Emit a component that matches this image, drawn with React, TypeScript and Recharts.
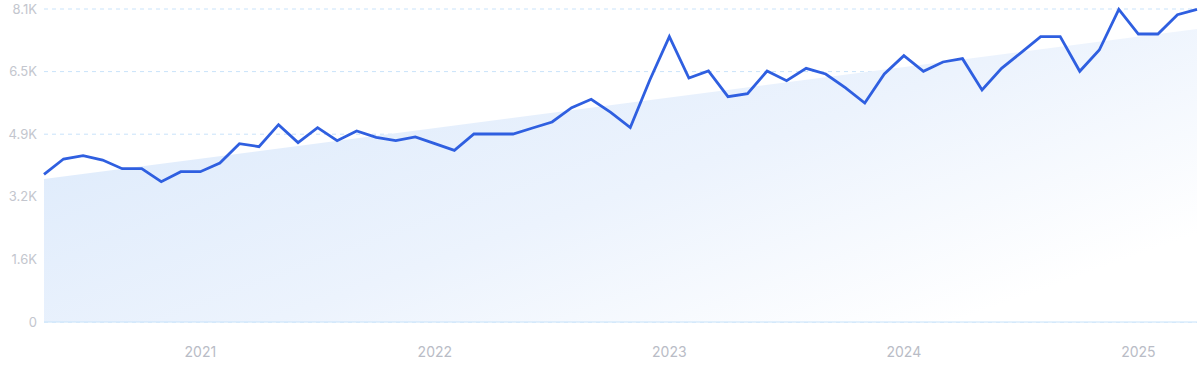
import React from 'react';
import { ComposedChart, Area, Line, XAxis, YAxis, CartesianGrid } from 'recharts';

const months = [
  '2020-05','2020-06','2020-07','2020-08','2020-09','2020-10','2020-11','2020-12',
  '2021-01','2021-02','2021-03','2021-04','2021-05','2021-06','2021-07','2021-08','2021-09','2021-10','2021-11','2021-12',
  '2022-01','2022-02','2022-03','2022-04','2022-05','2022-06','2022-07','2022-08','2022-09','2022-10','2022-11','2022-12',
  '2023-01','2023-02','2023-03','2023-04','2023-05','2023-06','2023-07','2023-08','2023-09','2023-10','2023-11','2023-12',
  '2024-01','2024-02','2024-03','2024-04','2024-05','2024-06','2024-07','2024-08','2024-09','2024-10','2024-11','2024-12',
  '2025-01','2025-02','2025-03','2025-04',
];

const volume = [
  3822, 4218, 4304, 4190, 3968, 3968, 3631, 3890,
  3890, 4115, 4615, 4538, 5107, 4642, 5030, 4693, 4943, 4779, 4693, 4788,
  4615, 4443, 4865, 4865, 4865, 5021, 5176, 5547, 5763, 5426, 5030, 6263,
  7384, 6315, 6496, 5831, 5909, 6496, 6246, 6565, 6418, 6065, 5668, 6418,
  6893, 6488, 6729, 6815, 6004, 6565, 6970, 7384, 7384, 6488, 7039, 8092,
  7453, 7453, 7953, 8092,
];

// trend endpoints (first and last month)
const trendStart = 3701;
const trendEnd = 7583;

const yTicks = [0, 1620, 3240, 4860, 6480, 8100];
const yTickLabels = ['0', '1.6K', '3.2K', '4.9K', '6.5K', '8.1K'];
const xTicks = ['2021-01', '2022-01', '2023-01', '2024-01', '2025-01'];
const xTickLabels = ['2021', '2022', '2023', '2024', '2025'];

const data = months.map((m, i) => ({
  month: m,
  volume: volume[i],
  trend: i === 0 ? trendStart : i === months.length - 1 ? trendEnd : null,
}));

export default function App() {
  return (
    <div style={{ position: 'absolute', left: 0, top: 0, width: 1200, height: 371, background: '#fff' }}>
      <ComposedChart
        width={1200}
        height={371}
        data={data}
        margin={{ top: 9, right: 3, bottom: 9, left: 0 }}
      >
        <defs>
          <linearGradient id="trendFill" x1="0" y1="0" x2="1" y2="0.7">
            <stop offset="0%" stopColor="#d9e8fb" />
            <stop offset="60%" stopColor="#ecf3fd" />
            <stop offset="100%" stopColor="#ffffff" />
          </linearGradient>
        </defs>
        <CartesianGrid
          vertical={false}
          stroke="#c9e3fa"
          strokeDasharray="4 4"
        />
        <XAxis
          dataKey="month"
          ticks={xTicks}
          tickFormatter={(v: string) => xTickLabels[xTicks.indexOf(v)] ?? ''}
          interval={0}
          axisLine={{ stroke: '#c6e2fa' }}
          tickLine={false}
          tickSize={6}
          tickMargin={19}
          height={40}
          tick={{ fill: '#b9bcc6', fontSize: 14, fontFamily: 'Inter' }}
        />
        <YAxis
          domain={[0, 8100]}
          ticks={yTicks}
          tickFormatter={(v: number) => yTickLabels[yTicks.indexOf(v)] ?? ''}
          axisLine={false}
          tickLine={false}
          tickSize={6}
          tickMargin={1}
          width={44}
          interval={0}
          tick={{ fill: '#c3c6ce', fontSize: 13, fontFamily: 'Inter' }}
        />
        <Area
          type="linear"
          dataKey="trend"
          connectNulls
          stroke="none"
          fill="url(#trendFill)"
          fillOpacity={1}
          isAnimationActive={false}
          dot={false}
          activeDot={false}
        />
        <Line
          type="linear"
          dataKey="volume"
          stroke="#2f5fe0"
          strokeWidth={2.8}
          dot={false}
          activeDot={false}
          isAnimationActive={false}
        />
      </ComposedChart>
    </div>
  );
}
